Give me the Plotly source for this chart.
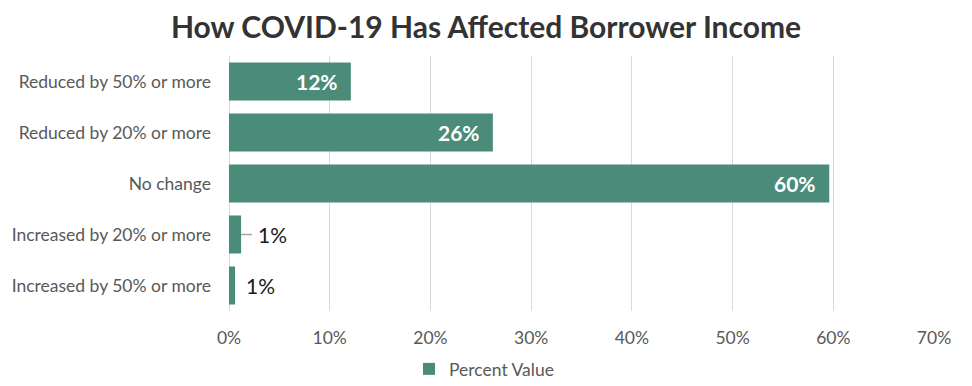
import plotly.graph_objects as go

categories = ["Reduced by 50% or more", "Reduced by 20% or more", "No change",
              "Increased by 20% or more", "Increased by 50% or more"]
values = [0.121, 0.262, 0.596, 0.012, 0.006]
labels = ["12%", "26%", "60%", "1%", "1%"]
series_name = "Percent Value"
x_ticks = [0, 0.1, 0.2, 0.3, 0.4, 0.5, 0.6, 0.7]
x_tick_labels = ["0%", "10%", "20%", "30%", "40%", "50%", "60%", "70%"]

BAR = "#4B8B79"
FONT = "Lato, Carlito, Calibri, sans-serif"

# page body has an 8px margin, so the figure is sized to fit inside 972x386
W, H = 964, 378

fig = go.Figure()
fig.add_trace(go.Bar(
    y=categories, x=values, orientation="h", name=series_name,
    marker=dict(color=BAR, line=dict(width=0)),
    width=0.745,
    showlegend=True,
))

for i, (c, v, l) in enumerate(zip(categories, values, labels)):
    if v >= 0.05:
        fig.add_annotation(x=v, y=c, text=l, showarrow=False, xanchor="right",
                           xshift=-11,
                           font=dict(family=FONT, size=21, color="white",
                                     weight="bold"))
    elif i == 3:
        fig.add_annotation(x=v, y=c, text=l, showarrow=True, ax=31, ay=0,
                           axref="pixel", ayref="pixel", arrowhead=0,
                           arrowwidth=1.5, arrowcolor="#A6A6A6", standoff=0,
                           font=dict(family=FONT, size=21, color="#1a1a1a"),
                           borderpad=5)
    else:
        fig.add_annotation(x=v, y=c, text=l, showarrow=False, xanchor="left",
                           xshift=9,
                           font=dict(family=FONT, size=21, color="#1a1a1a"))

fig.update_layout(
    width=W, height=H,
    margin=dict(l=221, r=38, t=48, b=75),
    paper_bgcolor="white", plot_bgcolor="white",
    title=dict(text="How COVID-19 Has Affected Borrower Income",
               x=478 / W, xref="container", xanchor="center",
               y=1 - 19 / H, yref="container", yanchor="middle",
               font=dict(family=FONT, size=30, color="#333333", weight="bold")),
    xaxis=dict(range=[0, 0.7], tickvals=x_ticks, ticktext=x_tick_labels,
               showgrid=True, gridcolor="#D9D9D9", gridwidth=1.3,
               zeroline=True, zerolinecolor="#D9D9D9", zerolinewidth=1.3,
               showline=False, ticks="", ticklabelstandoff=14,
               automargin=False,
               tickfont=dict(family=FONT, size=17.5, color="#595959")),
    yaxis=dict(categoryorder="array", categoryarray=categories,
               autorange="reversed", showgrid=False, ticks="",
               ticklabelstandoff=17, automargin=False,
               tickfont=dict(family=FONT, size=17.5, color="#595959")),
    bargap=0.255,
    legend=dict(orientation="h", x=476 / W, xref="container", xanchor="center",
                y=1 - 361 / H, yref="container", yanchor="middle",
                font=dict(family=FONT, size=17.5, color="#595959"),
                itemwidth=30),
)

fig.write_html("out.html")
